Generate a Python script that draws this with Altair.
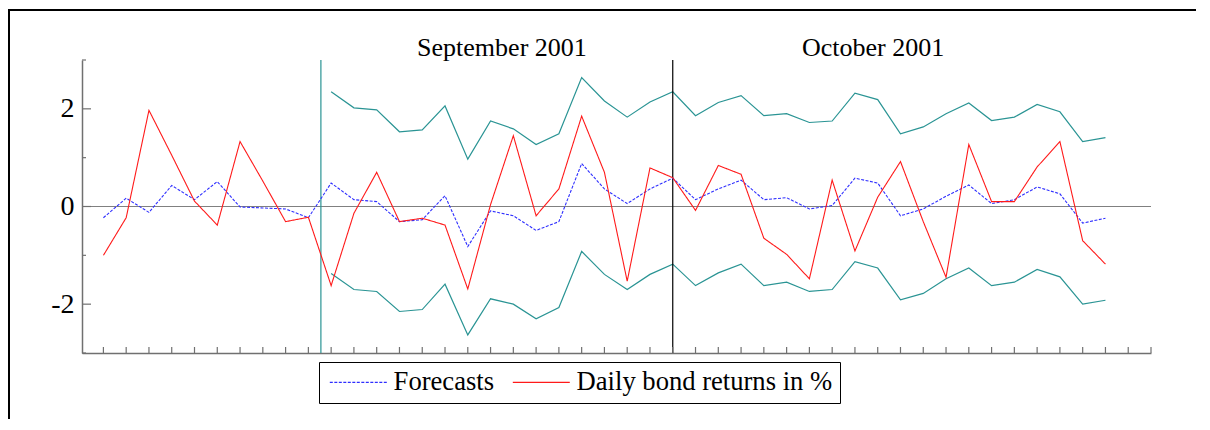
import altair as alt
import pandas as pd

# ---- data ----
idx = list(range(1, 46))
returns = [-1.00, -0.23, 1.97, 1.05, 0.11, -0.38, 1.33, 0.52, -0.31, -0.22,
           -1.62, -0.14, 0.70, -0.31, -0.24, -0.38, -1.69, 0.04, 1.45, -0.19,
           0.36, 1.85, 0.70, -1.53, 0.79, 0.59, -0.08, 0.84, 0.66, -0.65,
           -0.98, -1.48, 0.54, -0.91, 0.19, 0.92, -0.31, -1.45, 1.27, 0.10,
           0.10, 0.81, 1.33, -0.70, -1.18]
forecasts = [-0.23, 0.17, -0.12, 0.43, 0.14, 0.51, -0.01, -0.03, -0.05, -0.23,
             0.48, 0.14, 0.10, -0.31, -0.27, 0.22, -0.82, -0.09, -0.19, -0.49,
             -0.31, 0.88, 0.36, 0.06, 0.36, 0.58, 0.14, 0.36, 0.54, 0.14,
             0.18, -0.05, 0.02, 0.58, 0.48, -0.19, -0.05, 0.21, 0.44, 0.06,
             0.14, 0.40, 0.26, -0.34, -0.24]
band_idx = list(range(11, 46))
upper = [2.35, 2.02, 1.98, 1.53, 1.57, 2.06, 0.97, 1.75, 1.59, 1.27,
         1.49, 2.64, 2.16, 1.83, 2.14, 2.35, 1.86, 2.13, 2.27, 1.86,
         1.90, 1.72, 1.75, 2.32, 2.19, 1.49, 1.63, 1.90, 2.12, 1.76,
         1.83, 2.09, 1.94, 1.33, 1.41]
lower = [-1.37, -1.70, -1.74, -2.15, -2.11, -1.59, -2.63, -1.89, -2.00, -2.30,
         -2.07, -0.92, -1.39, -1.70, -1.39, -1.18, -1.62, -1.36, -1.18, -1.62,
         -1.55, -1.74, -1.70, -1.13, -1.26, -1.91, -1.78, -1.48, -1.26, -1.62,
         -1.55, -1.29, -1.44, -2.00, -1.92]
series_names = ["Forecasts", "Daily bond returns in %"]
month_labels = ["September 2001", "October 2001"]
month_pos = [18.5, 34.8]
x_ticks = list(range(1, 48))
y_major = [-2, 0, 2]
y_minor = [-3, -1, 1, 3]
sep_line = [10.55]
oct_line = [26]

W, H = 1069, 293
FONT = "Liberation Serif"
TEAL = "#2a9494"
AXC = "#707070"

series_df = pd.concat([
    pd.DataFrame({"i": idx, "v": forecasts, "series": series_names[0]}),
    pd.DataFrame({"i": idx, "v": returns, "series": series_names[1]}),
])
band_df = pd.concat([
    pd.DataFrame({"i": band_idx, "v": upper, "band": "upper"}),
    pd.DataFrame({"i": band_idx, "v": lower, "band": "lower"}),
])

xs = alt.Scale(domain=[0.06, 47], nice=False, zero=False)
ys = alt.Scale(domain=[-3, 3], nice=False, zero=False)

x_axis = alt.Axis(labels=False, ticks=False, grid=False, title=None,
                  domainColor=AXC, domainWidth=1.5)
y_axis = alt.Axis(values=y_major, ticks=False, grid=False, title=None,
                  domainColor=AXC, domainWidth=1.5, labelFont=FONT,
                  labelFontSize=28, labelColor="black", labelPadding=8,
                  labelExpr="datum.value < 0 ? '-' + abs(datum.value) : '' + datum.value")


def X(f):
    return alt.X(f, scale=xs, axis=x_axis, title=None)


def Y(f):
    return alt.Y(f, scale=ys, axis=y_axis, title=None)


legend = alt.Legend(
    orient="none", legendX=237, legendY=302, direction="horizontal", title=None,
    symbolType="M-0.826,0H4.13", symbolSize=529, symbolStrokeWidth=1.2,
    labelFont=FONT, labelFontSize=26.6, labelColor="black", labelOffset=41,
    labelLimit=600, gridAlign="each",
    strokeColor="black", padding=7, columnPadding=14, fillColor="white",
)

bands = alt.Chart(band_df).mark_line(color=TEAL, strokeWidth=1.2).encode(
    x=X("i:Q"), y=Y("v:Q"), detail="band:N",
)

zero = alt.Chart(pd.DataFrame({"z": [0]})).mark_rule(color="#808080", strokeWidth=1).encode(
    y=Y("z:Q"),
)
vsep = alt.Chart(pd.DataFrame({"p": sep_line})).mark_rule(color=TEAL, strokeWidth=1.2).encode(
    x=X("p:Q"),
)
voct = alt.Chart(pd.DataFrame({"p": oct_line})).mark_rule(color="black", strokeWidth=1.2).encode(
    x=X("p:Q"),
)

lines = alt.Chart(series_df).mark_line(strokeWidth=1.1).encode(
    x=X("i:Q"), y=Y("v:Q"),
    color=alt.Color("series:N", sort=series_names,
                    scale=alt.Scale(domain=series_names, range=["#2f2fff", "#ff1a1a"]),
                    legend=legend),
    strokeDash=alt.StrokeDash("series:N", sort=series_names,
                              scale=alt.Scale(domain=series_names, range=[[3, 1.5], [1, 0]]),
                              legend=legend),
)

xt = alt.Chart(pd.DataFrame({"t": x_ticks})).mark_rule(color=AXC, strokeWidth=1.2).encode(
    x=X("t:Q"), y=alt.value(H - 6), y2=alt.value(H),
)
ytm = alt.Chart(pd.DataFrame({"t": y_major})).mark_rule(color=AXC, strokeWidth=1.2).encode(
    y=Y("t:Q"), x=alt.value(0), x2=alt.value(9),
)
ytn = alt.Chart(pd.DataFrame({"t": y_minor})).mark_rule(color=AXC, strokeWidth=1.2).encode(
    y=Y("t:Q"), x=alt.value(0), x2=alt.value(4),
)

months = alt.Chart(pd.DataFrame({"m": month_labels, "p": month_pos})).mark_text(
    font=FONT, fontSize=26, color="black", align="center", baseline="alphabetic").encode(
    x=X("p:Q"), y=alt.value(-4), text="m:N",
)

frame_left = alt.Chart(pd.DataFrame({"a": [0]})).mark_rule(color="black", strokeWidth=2).encode(
    x=alt.value(-73), y=alt.value(-51), y2=alt.value(H + 70),
)
frame_top = alt.Chart(pd.DataFrame({"a": [0]})).mark_rule(color="black", strokeWidth=2).encode(
    x=alt.value(-74), x2=alt.value(W + 50), y=alt.value(-50),
)

chart = alt.layer(
    bands, zero, vsep, voct, lines, xt, ytm, ytn, months, frame_left, frame_top
).properties(
    width=W, height=H,
    autosize=alt.AutoSizeParams(type="none"),
    padding={"left": 74, "top": 52, "right": 45, "bottom": 66},
).configure_view(stroke=None)

chart.save("out.html", embed_options={"renderer": "svg", "actions": False})
